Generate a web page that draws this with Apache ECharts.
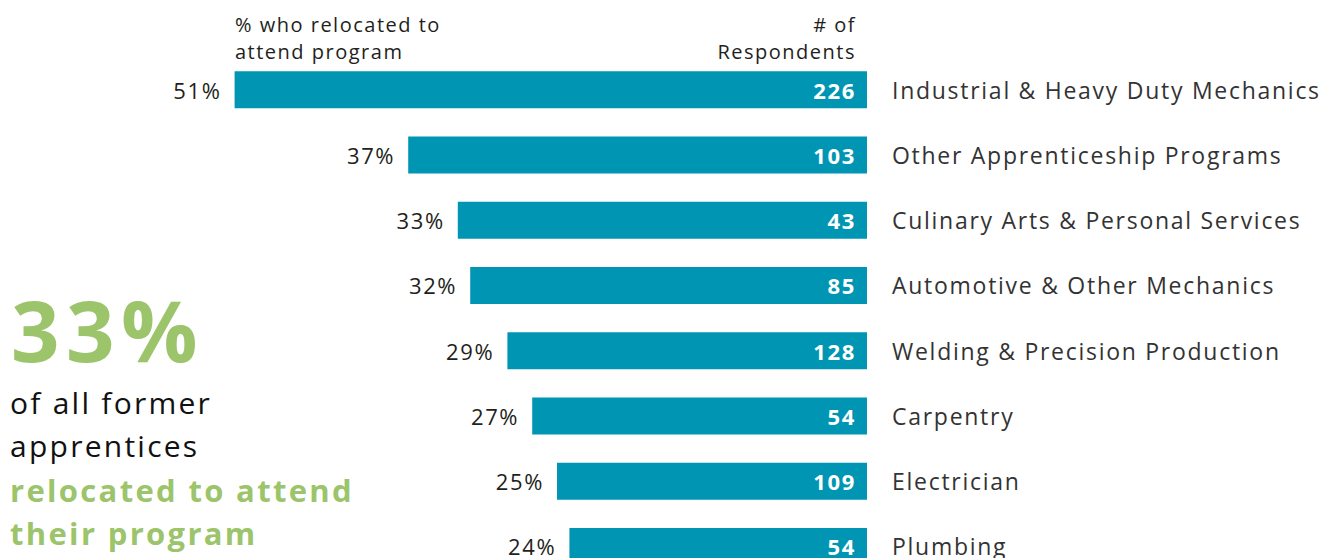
<!DOCTYPE html>
<html><head><meta charset="utf-8">
<script src="https://cdn.jsdelivr.net/npm/echarts@6/dist/echarts.min.js"></script>
<style>html,body{margin:0;padding:0;background:#fff}#c{width:1335px;height:558px}#c svg text{letter-spacing:0.075em}</style>
</head><body><div id="c"></div>
<script>
const categories = ["Industrial & Heavy Duty Mechanics","Other Apprenticeship Programs","Culinary Arts & Personal Services","Automotive & Other Mechanics","Welding & Precision Production","Carpentry","Electrician","Plumbing"];
const pctRelocated = [51,37,33,32,29,27,25,24];
const respondents = [226,103,43,85,128,54,109,54];
const headerLeft = ["% who relocated to","attend program"];
const headerRight = ["# of","Respondents"];
const callout = {big:"33%", l1:"of all former", l2:"apprentices", g1:"relocated to attend", g2:"their program"};

const BLUE = "#0096B3", GREEN = "#9BC46B", FONT = "'Open Sans', sans-serif";
const chart = echarts.init(document.getElementById('c'), null, {renderer:'svg'});
chart.setOption({
  animation:false,
  backgroundColor:'#fff',
  grid:{left:123, right:468, top:57, height:522, containLabel:false, outerBoundsMode:'none'},
  xAxis:{type:'value', min:0, max:60, inverse:true, show:false},
  yAxis:{type:'category', data:categories, inverse:true, position:'right',
    axisLine:{show:false}, axisTick:{show:false}, splitLine:{show:false},
    axisLabel:{align:'left', margin:25, color:'#333', fontFamily:FONT, fontSize:23}},
  series:[
    {type:'bar', data:pctRelocated, barWidth:37, itemStyle:{color:BLUE},
     label:{show:true, position:'left', distance:13, formatter:p=>p.value+'%', color:'#231f20', fontFamily:FONT, fontSize:22}},
    {type:'bar', data:pctRelocated, barWidth:37, barGap:'-100%', itemStyle:{color:'rgba(0,0,0,0)'},
     label:{show:true, position:'insideRight', distance:11, formatter:p=>String(respondents[p.dataIndex]), color:'#fff', fontFamily:FONT, fontWeight:'bold', fontSize:22}}
  ],
  graphic:[
    {type:'text', x:235, y:24, style:{text:headerLeft[0], font:"20px "+FONT, fill:'#231f20', verticalAlign:'middle'}},
    {type:'text', x:235, y:51, style:{text:headerLeft[1], font:"20px "+FONT, fill:'#231f20', verticalAlign:'middle'}},
    {type:'text', x:856, y:24, style:{text:headerRight[0], font:"20px "+FONT, fill:'#231f20', align:'right', verticalAlign:'middle'}},
    {type:'text', x:856, y:51, style:{text:headerRight[1], font:"20px "+FONT, fill:'#231f20', align:'right', verticalAlign:'middle'}},
    {type:'text', x:11, y:329, style:{text:callout.big, font:"bold 85px "+FONT, lineHeight:70, fill:GREEN, verticalAlign:'middle'}},
    {type:'text', x:10, y:402, style:{text:callout.l1, font:"30px "+FONT, fill:'#111', verticalAlign:'middle'}},
    {type:'text', x:10, y:445, style:{text:callout.l2, font:"30px "+FONT, fill:'#111', verticalAlign:'middle'}},
    {type:'text', x:10, y:490, style:{text:callout.g1, font:"bold 31px "+FONT, fill:GREEN, verticalAlign:'middle'}},
    {type:'text', x:10, y:533, style:{text:callout.g2, font:"bold 31px "+FONT, fill:GREEN, verticalAlign:'middle'}}
  ]
});
</script></body></html>
